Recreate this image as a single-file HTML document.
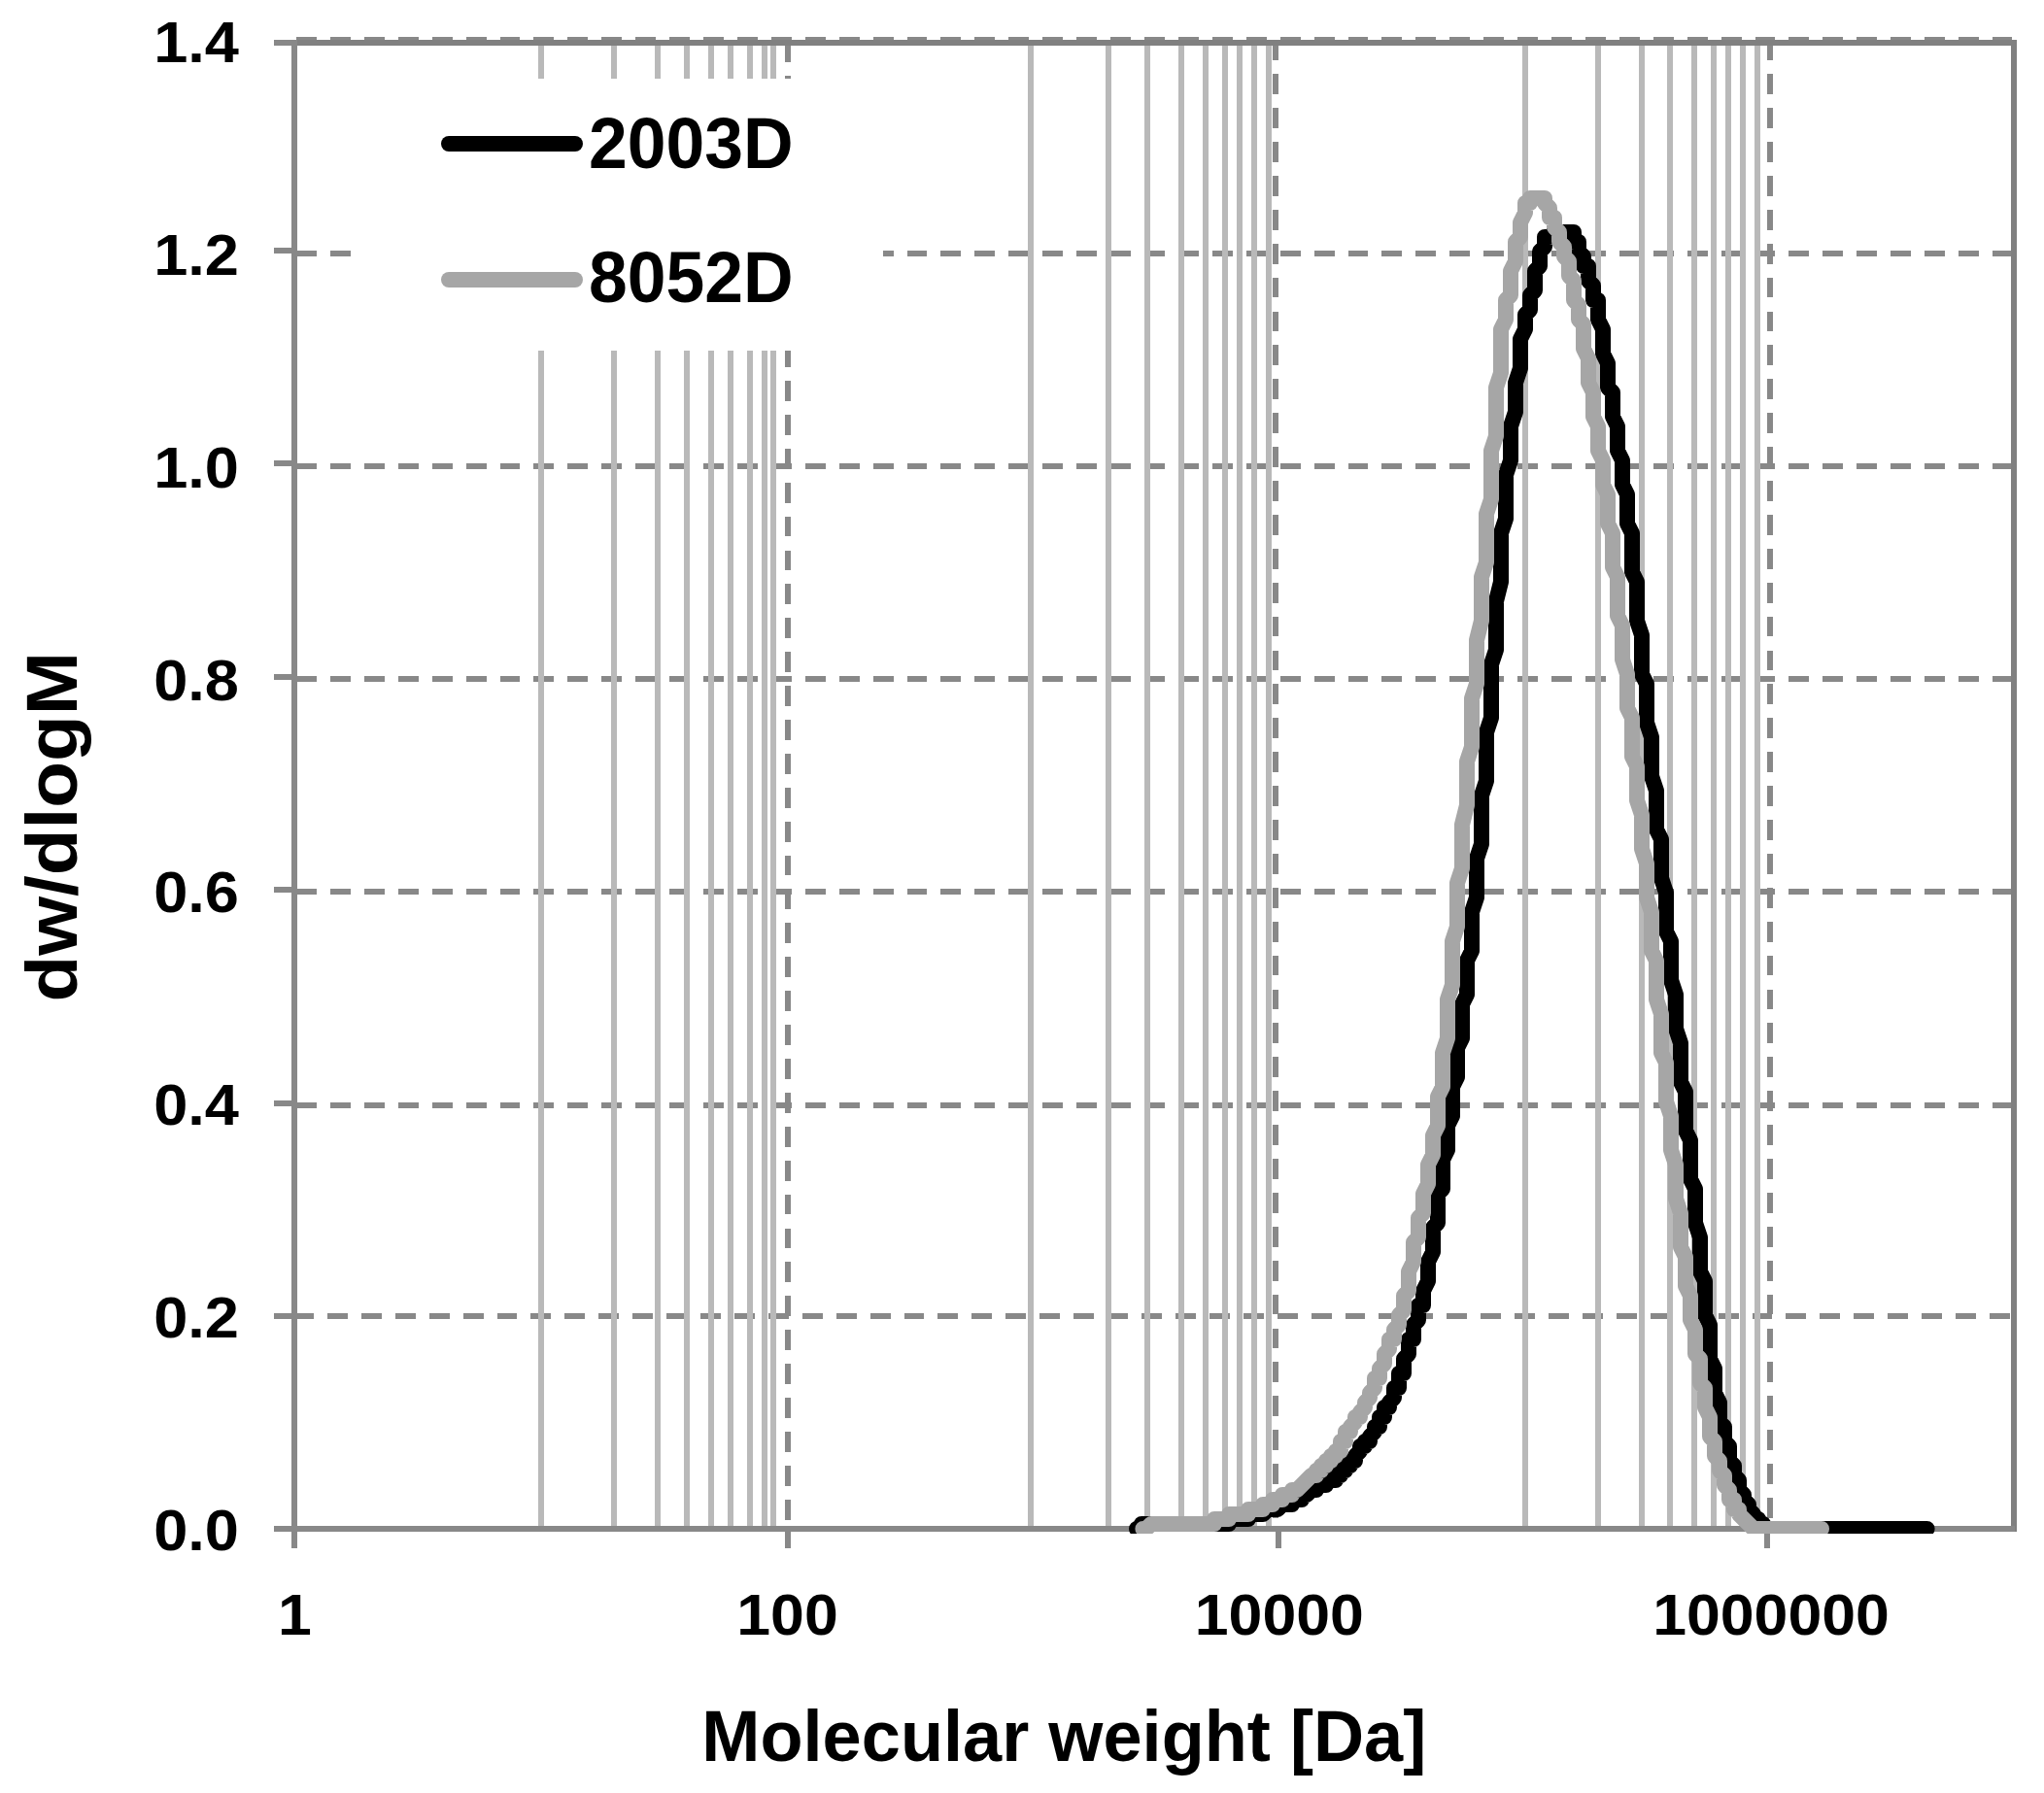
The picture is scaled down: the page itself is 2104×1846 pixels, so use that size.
<!DOCTYPE html>
<html lang="en"><head><meta charset="utf-8"><title>Molecular weight distribution</title>
<style>html,body{margin:0;padding:0;background:#fff}body{width:2104px;height:1846px;overflow:hidden}svg{display:block}text{font-family:"Liberation Sans",sans-serif;font-weight:bold;fill:#000}</style>
</head><body>
<svg width="2104" height="1846" viewBox="0 0 2104 1846">
<rect x="0" y="0" width="2104" height="1846" fill="#fff"/>
<g stroke="#888888" stroke-width="6" stroke-dasharray="20.9 14.02" shape-rendering="crispEdges">
<line x1="305" y1="41" x2="2071" y2="41"/>
<line x1="305" y1="261" x2="2071" y2="261"/>
<line x1="305" y1="480" x2="2071" y2="480"/>
<line x1="305" y1="699" x2="2071" y2="699"/>
<line x1="305" y1="918" x2="2071" y2="918"/>
<line x1="305" y1="1138" x2="2071" y2="1138"/>
<line x1="302" y1="1355" x2="2071" y2="1355"/>
</g>
<g stroke="#888888" stroke-width="6" stroke-dasharray="20.8 14.1" shape-rendering="crispEdges">
<line x1="811" y1="43" x2="811" y2="1571"/>
<line x1="1313" y1="41.3" x2="1313" y2="1571"/>
<line x1="1822" y1="41.3" x2="1822" y2="1571"/>
</g>
<g stroke="#b9b9b9" stroke-width="6" shape-rendering="crispEdges">
<line x1="557" y1="47" x2="557" y2="1571"/>
<line x1="632" y1="47" x2="632" y2="1571"/>
<line x1="677" y1="47" x2="677" y2="1571"/>
<line x1="707" y1="47" x2="707" y2="1571"/>
<line x1="732" y1="47" x2="732" y2="1571"/>
<line x1="752" y1="47" x2="752" y2="1571"/>
<line x1="772" y1="47" x2="772" y2="1571"/>
<line x1="787" y1="47" x2="787" y2="1571"/>
<line x1="796" y1="47" x2="796" y2="1571"/>
<line x1="1061" y1="47" x2="1061" y2="1571"/>
<line x1="1141" y1="47" x2="1141" y2="1571"/>
<line x1="1181" y1="47" x2="1181" y2="1571"/>
<line x1="1216" y1="47" x2="1216" y2="1571"/>
<line x1="1241" y1="47" x2="1241" y2="1571"/>
<line x1="1261" y1="47" x2="1261" y2="1571"/>
<line x1="1276" y1="47" x2="1276" y2="1571"/>
<line x1="1291" y1="47" x2="1291" y2="1571"/>
<line x1="1306" y1="47" x2="1306" y2="1571"/>
<line x1="1570" y1="47" x2="1570" y2="1571"/>
<line x1="1645" y1="47" x2="1645" y2="1571"/>
<line x1="1690" y1="47" x2="1690" y2="1571"/>
<line x1="1719" y1="47" x2="1719" y2="1571"/>
<line x1="1744" y1="47" x2="1744" y2="1571"/>
<line x1="1764" y1="47" x2="1764" y2="1571"/>
<line x1="1779" y1="47" x2="1779" y2="1571"/>
<line x1="1794" y1="47" x2="1794" y2="1571"/>
<line x1="1809" y1="47" x2="1809" y2="1571"/>
</g>
<g fill="#888888" shape-rendering="crispEdges">
<rect x="300" y="41" width="1776" height="6" fill="#808080"/>
<rect x="2070" y="41" width="6" height="1536" fill="#808080"/>
<rect x="300" y="1571" width="1776" height="6" fill="#808080"/>
<rect x="282" y="41" width="20" height="6"/>
<rect x="300" y="41" width="6" height="1553"/>
<rect x="282" y="1571" width="1792" height="5.5"/>
<rect x="282" y="255" width="20" height="6"/>
<rect x="282" y="474" width="20" height="6"/>
<rect x="282" y="694" width="20" height="6"/>
<rect x="282" y="913" width="20" height="6"/>
<rect x="282" y="1132.5" width="20" height="6"/>
<rect x="282" y="1352" width="20" height="6"/>
<rect x="808" y="1575" width="6" height="19"/>
<rect x="1313" y="1575" width="6" height="19"/>
<rect x="1816" y="1575" width="6" height="19"/>
</g>
<clipPath id="plotclip"><rect x="296" y="36" width="1784" height="1543"/></clipPath>
<g clip-path="url(#plotclip)" fill="none" stroke-width="16" stroke-linecap="round" stroke-linejoin="round">
<path stroke="#000" d="M1171.2 1574 L1170 1574 L1175 1574 L1175 1569 L1265 1569 L1265 1564 L1285 1564 L1285 1559 L1300 1559 L1305 1554 L1315 1554 L1320 1549 L1330 1549 L1330 1544 L1340 1544 L1340 1539 L1345 1539 L1350 1534 L1355 1534 L1355 1529 L1365 1529 L1365 1524 L1375 1524 L1375 1519 L1380 1519 L1380 1514 L1385 1514 L1385 1509 L1390 1509 L1390 1504 L1395 1504 L1395 1499 L1400 1494 L1400 1489 L1405 1489 L1405 1484 L1410 1484 L1410 1479 L1415 1474 L1415 1469 L1420 1469 L1420 1459 L1425 1459 L1425 1449 L1430 1449 L1430 1444 L1435 1439 L1435 1429 L1440 1429 L1440 1414 L1445 1414 L1445 1399 L1450 1394 L1450 1379 L1455 1379 L1455 1364 L1460 1359 L1460 1344 L1465 1344 L1465 1329 L1470 1319 L1470 1299 L1475 1289 L1475 1264 L1480 1259 L1480 1229 L1485 1224 L1485 1194 L1490 1184 L1490 1159 L1495 1149 L1495 1119 L1500 1109 L1500 1079 L1505 1069 L1505 1034 L1510 1024 L1510 989 L1515 979 L1515 939 L1520 924 L1520 884 L1525 869 L1525 819 L1530 804 L1530 754 L1535 739 L1535 684 L1540 669 L1540 619 L1545 599 L1545 549 L1550 534 L1550 489 L1555 474 L1555 439 L1560 424 L1560 394 L1565 379 L1565 349 L1570 339 L1570 324 L1575 319 L1575 304 L1580 299 L1580 279 L1585 274 L1585 259 L1590 254 L1590 244 L1595 244 L1600 239 L1620 239 L1620 249 L1625 249 L1625 259 L1630 264 L1630 274 L1635 274 L1635 289 L1640 294 L1640 309 L1645 309 L1645 329 L1650 339 L1650 364 L1655 374 L1655 399 L1660 404 L1660 429 L1665 439 L1665 464 L1670 474 L1670 499 L1675 509 L1675 539 L1680 549 L1680 589 L1685 599 L1685 639 L1690 654 L1690 694 L1695 704 L1695 744 L1700 759 L1700 799 L1705 814 L1705 854 L1710 864 L1710 904 L1715 919 L1715 959 L1720 969 L1720 1009 L1725 1024 L1725 1059 L1730 1074 L1730 1114 L1735 1124 L1735 1164 L1740 1174 L1740 1214 L1745 1224 L1745 1259 L1750 1274 L1750 1309 L1755 1319 L1755 1354 L1760 1364 L1760 1399 L1765 1409 L1765 1434 L1770 1444 L1770 1464 L1775 1469 L1775 1484 L1780 1489 L1780 1504 L1785 1509 L1785 1519 L1790 1524 L1790 1534 L1795 1539 L1795 1544 L1800 1549 L1800 1554 L1805 1559 L1805 1564 L1810 1564 L1810 1569 L1815 1569 L1815 1574 L1983.6 1574"/>
<path stroke="#a6a6a6" d="M1176.4 1574 L1180 1574 L1185 1569 L1250 1569 L1250 1564 L1265 1564 L1265 1559 L1285 1559 L1285 1554 L1300 1554 L1300 1549 L1310 1549 L1310 1544 L1320 1544 L1320 1539 L1330 1539 L1330 1534 L1335 1534 L1350 1519 L1355 1519 L1355 1514 L1360 1514 L1360 1509 L1365 1509 L1365 1504 L1370 1504 L1370 1499 L1375 1499 L1375 1494 L1380 1494 L1380 1484 L1385 1484 L1385 1474 L1390 1474 L1390 1469 L1395 1464 L1395 1459 L1400 1459 L1400 1454 L1405 1449 L1405 1444 L1410 1439 L1410 1434 L1415 1429 L1415 1419 L1420 1419 L1420 1409 L1425 1404 L1425 1394 L1430 1389 L1430 1379 L1435 1379 L1435 1369 L1440 1364 L1440 1354 L1445 1349 L1445 1334 L1450 1329 L1450 1309 L1455 1299 L1455 1279 L1460 1274 L1460 1254 L1465 1249 L1465 1229 L1470 1219 L1470 1199 L1475 1189 L1475 1169 L1480 1159 L1480 1129 L1485 1119 L1485 1084 L1490 1069 L1490 1029 L1495 1014 L1495 969 L1500 954 L1500 909 L1505 894 L1505 849 L1510 829 L1510 784 L1515 769 L1515 719 L1520 704 L1520 659 L1525 639 L1525 594 L1530 579 L1530 529 L1535 514 L1535 464 L1540 449 L1540 399 L1545 384 L1545 339 L1550 329 L1550 309 L1555 304 L1555 279 L1560 269 L1560 249 L1565 244 L1565 229 L1570 219 L1570 209 L1575 209 L1575 204 L1590 204 L1590 209 L1595 214 L1595 224 L1600 224 L1600 234 L1605 239 L1605 249 L1610 254 L1610 264 L1615 269 L1615 284 L1620 289 L1620 309 L1625 314 L1625 329 L1630 334 L1630 359 L1635 369 L1635 394 L1640 404 L1640 429 L1645 439 L1645 464 L1650 474 L1650 499 L1655 509 L1655 539 L1660 549 L1660 584 L1665 594 L1665 634 L1670 644 L1670 679 L1675 694 L1675 729 L1680 739 L1680 779 L1685 789 L1685 824 L1690 839 L1690 874 L1695 889 L1695 924 L1700 939 L1700 979 L1705 989 L1705 1029 L1710 1044 L1710 1084 L1715 1094 L1715 1134 L1720 1149 L1720 1184 L1725 1199 L1725 1234 L1730 1249 L1730 1284 L1735 1294 L1735 1324 L1740 1334 L1740 1359 L1745 1369 L1745 1394 L1750 1399 L1750 1424 L1755 1429 L1755 1449 L1760 1459 L1760 1479 L1765 1484 L1765 1499 L1770 1504 L1770 1514 L1775 1519 L1775 1529 L1780 1534 L1780 1544 L1785 1544 L1785 1554 L1790 1554 L1790 1559 L1805 1574 L1875 1574 L1873.5 1574"/>
</g>
<rect x="361" y="81" width="548" height="280" fill="#fff"/>
<line x1="462" y1="148" x2="592" y2="148" stroke="#000" stroke-width="16" stroke-linecap="round"/>
<line x1="462" y1="288" x2="592" y2="288" stroke="#a6a6a6" stroke-width="16" stroke-linecap="round"/>
<text transform="translate(606,173) scale(0.9655,1)" font-size="74" text-anchor="start">2003D</text>
<text transform="translate(606,311) scale(0.9655,1)" font-size="74" text-anchor="start">8052D</text>
<text transform="translate(246,64) scale(1.06,1)" font-size="59.6" text-anchor="end">1.4</text>
<text transform="translate(246,282.86) scale(1.06,1)" font-size="59.6" text-anchor="end">1.2</text>
<text transform="translate(246,501.72) scale(1.06,1)" font-size="59.6" text-anchor="end">1.0</text>
<text transform="translate(246,720.58) scale(1.06,1)" font-size="59.6" text-anchor="end">0.8</text>
<text transform="translate(246,939.44) scale(1.06,1)" font-size="59.6" text-anchor="end">0.6</text>
<text transform="translate(246,1158.3) scale(1.06,1)" font-size="59.6" text-anchor="end">0.4</text>
<text transform="translate(246,1377.16) scale(1.06,1)" font-size="59.6" text-anchor="end">0.2</text>
<text transform="translate(246,1596.02) scale(1.06,1)" font-size="59.6" text-anchor="end">0.0</text>
<text transform="translate(303.5,1683) scale(1.05,1)" font-size="59.6" text-anchor="middle">1</text>
<text transform="translate(810.5,1683) scale(1.05,1)" font-size="59.6" text-anchor="middle">100</text>
<text transform="translate(1316.8,1683) scale(1.05,1)" font-size="59.6" text-anchor="middle">10000</text>
<text transform="translate(1823,1683) scale(1.05,1)" font-size="59.6" text-anchor="middle">1000000</text>
<text transform="translate(1095.3,1813.4) scale(0.9625,1)" font-size="75" text-anchor="middle">Molecular weight [Da]</text>
<text transform="translate(79.2,851.3) rotate(-90) scale(1.042,1)" font-size="75" text-anchor="middle">dw/dlogM</text>
</svg></body></html>
